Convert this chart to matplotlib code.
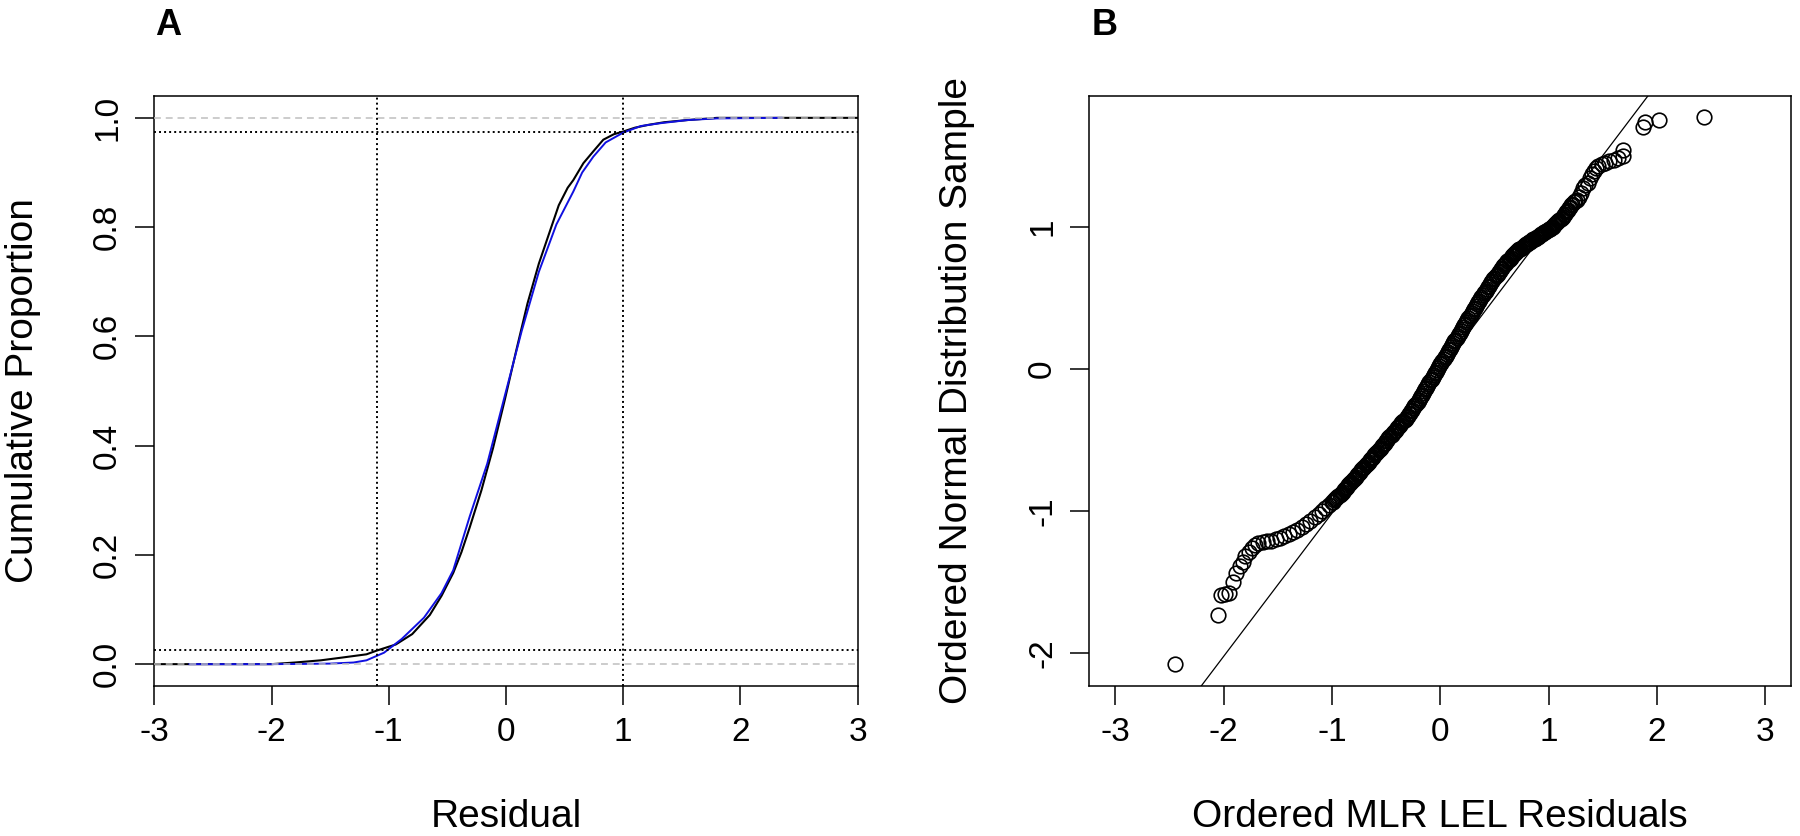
import matplotlib
matplotlib.use("Agg")
import matplotlib.pyplot as plt

plt.rcParams['font.family'] = ['Liberation Sans', 'DejaVu Sans']

# ---------------- Panel A data (ECDF curves) ----------------
resid_x = [-3.0, -2.0, -1.8, -1.58, -1.4, -1.19, -1.1, -0.94, -0.80, -0.65, -0.55, -0.45,
           -0.38, -0.31, -0.21, -0.11, -0.01, 0.085, 0.183, 0.28, 0.38, 0.45, 0.526,
           0.574, 0.66, 0.75, 0.83, 0.92, 1.0, 1.1, 1.21, 1.35, 1.55, 1.8, 3.0]
resid_F = [0.0, 0.0, 0.003, 0.007, 0.012, 0.018, 0.025, 0.036, 0.055, 0.09, 0.125, 0.167,
           0.205, 0.25, 0.318, 0.396, 0.484, 0.572, 0.66, 0.733, 0.796, 0.84, 0.872,
           0.886, 0.917, 0.94, 0.96, 0.97, 0.975, 0.982, 0.987, 0.992, 0.996, 1.0, 1.0]

norm_x = [-2.7, -2.0, -1.7, -1.5, -1.3, -1.19, -1.04, -0.89, -0.70, -0.55, -0.45, -0.31,
          -0.16, -0.013, 0.134, 0.28, 0.43, 0.574, 0.65, 0.745, 0.85, 1.0, 1.15, 1.31,
          1.55, 1.8, 2.35]
norm_F = [0.0, 0.0, 0.0005, 0.001, 0.003, 0.007, 0.021, 0.046, 0.085, 0.13, 0.172, 0.27,
          0.367, 0.489, 0.61, 0.718, 0.805, 0.865, 0.9, 0.929, 0.955, 0.973, 0.985, 0.99,
          0.996, 0.999, 1.0]

ref_h_gray = [0.0, 1.0]
ref_h_dot = [0.025, 0.975]
ref_v_dot = [-1.1, 1.0]

# ---------------- Panel B data (ordered residuals vs ordered normal sample) ----------------
qq_tail_low_x = [-2.45, -2.05, -2.02, -1.99, -1.95, -1.91, -1.89, -1.85, -1.82, -1.80, -1.77,
                 -1.74, -1.71, -1.68, -1.64, -1.60, -1.56, -1.52, -1.48, -1.44, -1.40, -1.36,
                 -1.32, -1.28, -1.24, -1.20, -1.16, -1.12, -1.09, -1.06, -1.03, -1.00]
qq_tail_low_y = [-2.08, -1.73, -1.59, -1.585, -1.58, -1.50, -1.44, -1.39, -1.36, -1.32, -1.29,
                 -1.26, -1.24, -1.225, -1.22, -1.215, -1.21, -1.20, -1.19, -1.175, -1.16, -1.15,
                 -1.135, -1.115, -1.09, -1.07, -1.045, -1.02, -1.00, -0.98, -0.96, -0.94]

qq_band_x = [
    -0.99, -0.98, -0.97, -0.96, -0.95, -0.94, -0.93, -0.92, -0.91, -0.90,
    -0.89, -0.88, -0.87, -0.86, -0.85, -0.84, -0.83, -0.82, -0.81, -0.80,
    -0.79, -0.78, -0.77, -0.76, -0.75, -0.74, -0.73, -0.72, -0.71, -0.70,
    -0.69, -0.68, -0.67, -0.66, -0.65, -0.64, -0.63, -0.62, -0.61, -0.60,
    -0.59, -0.58, -0.57, -0.56, -0.55, -0.54, -0.53, -0.52, -0.51, -0.50,
    -0.49, -0.48, -0.47, -0.46, -0.45, -0.44, -0.43, -0.42, -0.41, -0.40,
    -0.39, -0.38, -0.37, -0.36, -0.35, -0.34, -0.33, -0.32, -0.31, -0.30,
    -0.29, -0.28, -0.27, -0.26, -0.25, -0.24, -0.23, -0.22, -0.21, -0.20,
    -0.19, -0.18, -0.17, -0.16, -0.15, -0.14, -0.13, -0.12, -0.11, -0.10,
    -0.09, -0.08, -0.07, -0.06, -0.05, -0.04, -0.03, -0.02, -0.01, 0.00,
    0.01, 0.02, 0.03, 0.04, 0.05, 0.06, 0.07, 0.08, 0.09, 0.10,
    0.11, 0.12, 0.13, 0.14, 0.15, 0.16, 0.17, 0.18, 0.19, 0.20,
    0.21, 0.22, 0.23, 0.24, 0.25, 0.26, 0.27, 0.28, 0.29, 0.30,
    0.31, 0.32, 0.33, 0.34, 0.35, 0.36, 0.37, 0.38, 0.39, 0.40,
    0.41, 0.42, 0.43, 0.44, 0.45, 0.46, 0.47, 0.48, 0.49, 0.50,
    0.51, 0.52, 0.53, 0.54, 0.55, 0.56, 0.57, 0.58, 0.59, 0.60,
    0.61, 0.62, 0.63, 0.64, 0.65, 0.66, 0.67, 0.68, 0.69, 0.70,
    0.71, 0.72, 0.73, 0.74, 0.75, 0.76, 0.77, 0.78, 0.79, 0.80,
    0.81, 0.82, 0.83, 0.84, 0.85, 0.86, 0.87, 0.88, 0.89, 0.90,
    0.91, 0.92, 0.93, 0.94, 0.95, 0.96, 0.97, 0.98, 0.99, 1.00,
    1.01, 1.02, 1.03, 1.04, 1.05, 1.06, 1.07, 1.08, 1.09, 1.10,
    1.11, 1.12, 1.13, 1.14, 1.15, 1.16, 1.17, 1.18, 1.19, 1.20,
    1.21, 1.22, 1.23, 1.24]
qq_band_y = [
    -0.935, -0.925, -0.918, -0.91, -0.902, -0.895, -0.887, -0.88, -0.872, -0.865,
    -0.855, -0.845, -0.838, -0.83, -0.82, -0.81, -0.802, -0.795, -0.785, -0.775,
    -0.768, -0.76, -0.75, -0.74, -0.732, -0.725, -0.715, -0.705, -0.698, -0.69,
    -0.68, -0.67, -0.662, -0.655, -0.645, -0.635, -0.628, -0.62, -0.61, -0.60,
    -0.592, -0.585, -0.575, -0.565, -0.555, -0.545, -0.538, -0.53, -0.52, -0.51,
    -0.50, -0.49, -0.482, -0.475, -0.465, -0.455, -0.448, -0.44, -0.43, -0.42,
    -0.412, -0.405, -0.395, -0.385, -0.378, -0.37, -0.36, -0.35, -0.34, -0.33,
    -0.32, -0.31, -0.30, -0.29, -0.278, -0.265, -0.255, -0.245, -0.232, -0.22,
    -0.208, -0.195, -0.182, -0.17, -0.158, -0.145, -0.132, -0.12, -0.108, -0.095,
    -0.082, -0.07, -0.058, -0.045, -0.032, -0.02, -0.008, 0.005, 0.018, 0.03,
    0.042, 0.055, 0.068, 0.08, 0.092, 0.105, 0.118, 0.13, 0.142, 0.155,
    0.168, 0.18, 0.192, 0.205, 0.218, 0.23, 0.242, 0.255, 0.268, 0.28,
    0.292, 0.305, 0.318, 0.33, 0.342, 0.355, 0.368, 0.38, 0.392, 0.405,
    0.418, 0.43, 0.442, 0.455, 0.468, 0.48, 0.492, 0.505, 0.518, 0.53,
    0.54, 0.55, 0.562, 0.575, 0.585, 0.595, 0.608, 0.62, 0.63, 0.64,
    0.65, 0.66, 0.67, 0.68, 0.69, 0.70, 0.71, 0.72, 0.728, 0.735,
    0.745, 0.755, 0.762, 0.77, 0.78, 0.79, 0.798, 0.805, 0.812, 0.82,
    0.828, 0.835, 0.84, 0.845, 0.852, 0.86, 0.865, 0.87, 0.875, 0.88,
    0.885, 0.89, 0.895, 0.90, 0.905, 0.91, 0.915, 0.92, 0.925, 0.93,
    0.935, 0.94, 0.945, 0.95, 0.955, 0.96, 0.965, 0.97, 0.975, 0.98,
    0.985, 0.99, 0.995, 1.00, 1.008, 1.015, 1.022, 1.03, 1.038, 1.045,
    1.052, 1.06, 1.07, 1.08, 1.09, 1.10, 1.11, 1.12, 1.13, 1.14,
    1.15, 1.16, 1.17, 1.18]

qq_tail_high_x = [1.26, 1.28, 1.30, 1.32, 1.34, 1.36, 1.38, 1.40, 1.42, 1.44, 1.46, 1.49,
                  1.52, 1.56, 1.60, 1.64, 1.69, 1.69, 1.875, 1.89, 2.02, 2.43]
qq_tail_high_y = [1.19, 1.21, 1.24, 1.27, 1.29, 1.31, 1.34, 1.37, 1.39, 1.41, 1.43, 1.44,
                  1.45, 1.46, 1.47, 1.48, 1.50, 1.54, 1.70, 1.735, 1.75, 1.77]

qq_line_x = [-2.207, 1.916]
qq_line_y = [-2.232, 1.919]

# ---------------- Figure ----------------
W, H = 1800, 836
fig = plt.figure(figsize=(W / 100, H / 100), dpi=100)

ax1 = fig.add_axes([154.3 / W, 150 / H, 703.4 / W, 590 / H])
ax2 = fig.add_axes([1089.3 / W, 150 / H, 702 / W, 590 / H])

TICK_FS = 24
LABEL_FS = 28

for ax in (ax1, ax2):
    for sp in ax.spines.values():
        sp.set_linewidth(1.1)
        sp.set_color('black')
    ax.tick_params(direction='out', length=13.5, width=1.1, labelsize=TICK_FS, pad=9)
    ax.tick_params(axis='y', labelrotation=90)

# Panel A
ax1.plot(resid_x, resid_F, color='black', lw=1.5, zorder=3)
ax1.plot(norm_x, norm_F, color='#1010e0', lw=1.4, zorder=4)
for h in ref_h_gray:
    ax1.axhline(h, color='#bebebe', lw=1.1, dashes=(4.5, 3.2), zorder=5)
for h in ref_h_dot:
    ax1.axhline(h, color='black', lw=1.4, dashes=(1, 1.6), zorder=5)
for v in ref_v_dot:
    ax1.axvline(v, color='black', lw=1.4, dashes=(1, 1.6), zorder=5)

ax1.set_xlim(-3, 3)
ax1.set_ylim(-0.04, 1.04)
ax1.set_xticks([-3, -2, -1, 0, 1, 2, 3])
ax1.set_xticklabels(['-3', '-2', '-1', '0', '1', '2', '3'])
ax1.set_yticks([0.0, 0.2, 0.4, 0.6, 0.8, 1.0])
ax1.set_yticklabels(['0.0', '0.2', '0.4', '0.6', '0.8', '1.0'])

# Panel B
mk = dict(marker='o', ms=10.5, mfc='none', mec='black', mew=1.2, ls='none', zorder=3)
ax2.plot(qq_tail_low_x, qq_tail_low_y, **mk)
ax2.plot(qq_band_x, qq_band_y, **mk)
ax2.plot(qq_tail_high_x, qq_tail_high_y, **mk)
ax2.plot(qq_line_x, qq_line_y, color='black', lw=0.9, zorder=2)

ax2.set_xlim(-3.24, 3.24)
ax2.set_ylim(-2.232, 1.919)
ax2.set_xticks([-3, -2, -1, 0, 1, 2, 3])
ax2.set_xticklabels(['-3', '-2', '-1', '0', '1', '2', '3'])
ax2.set_yticks([-2, -1, 0, 1])
ax2.set_yticklabels(['-2', '-1', '0', '1'])

for ax in (ax1, ax2):
    for lab in ax.get_yticklabels():
        lab.set_verticalalignment('center')

# Axis labels as figure text
fig.text(506 / W, 9 / H, 'Residual', fontsize=LABEL_FS, ha='center', va='baseline')
fig.text(1440 / W, 9 / H, 'Ordered MLR LEL Residuals', fontsize=LABEL_FS, ha='center', va='baseline')
fig.text(23 / W, 445 / H, 'Cumulative Proportion', fontsize=LABEL_FS, rotation=90,
         ha='center', va='center')
fig.text(957 / W, 445 / H, 'Ordered Normal Distribution Sample', fontsize=LABEL_FS, rotation=90,
         ha='center', va='center')

# Panel letters
fig.text(155 / W, 1 - 35 / H, 'A', fontsize=26, fontweight='bold', ha='left', va='baseline')
fig.text(1092 / W, 1 - 35 / H, 'B', fontsize=26, fontweight='bold', ha='left', va='baseline')

fig.savefig('out.png', dpi=100)
